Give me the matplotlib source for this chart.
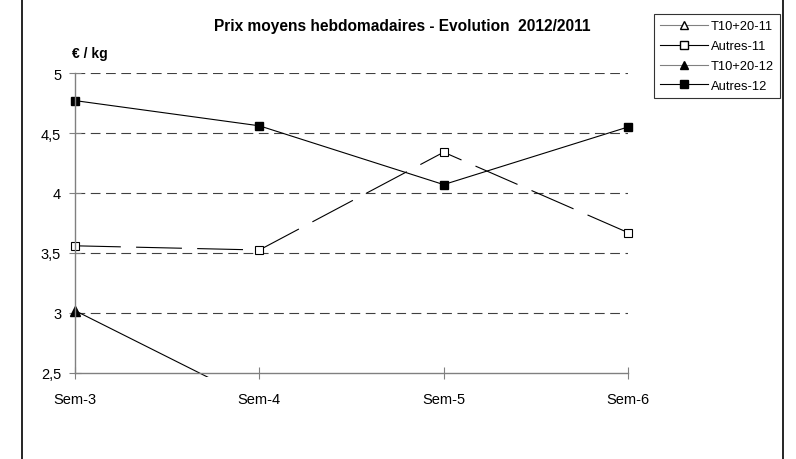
"""Prix moyens hebdomadaires - evolution 2012/2011 (Excel-style line chart)."""

import numpy as np
import matplotlib

matplotlib.use("Agg")
from matplotlib import pyplot as plt  # noqa: E402
from matplotlib.lines import Line2D  # noqa: E402
from matplotlib.transforms import Bbox, TransformedBbox  # noqa: E402

weeks = ["Sem-3", "Sem-4", "Sem-5", "Sem-6"]
# series below 2.5 are off the visible scale in the original
t10_20_11 = [np.nan, np.nan, np.nan, np.nan]
autres_11 = [3.56, 3.525, 4.34, 3.67]
t10_20_12 = [3.02, 2.25, np.nan, np.nan]
autres_12 = [4.77, 4.56, 4.07, 4.55]
y_ticks = [2.5, 3, 3.5, 4, 4.5, 5]
y_labels = ["2,5", "3", "3,5", "4", "4,5", "5"]

plt.rcParams["font.family"] = ["Liberation Sans", "DejaVu Sans"]
plt.rcParams["lines.scale_dashes"] = False

fig = plt.figure(figsize=(7.96, 4.6), dpi=100)
ax = fig.add_axes([75 / 796, 1 - 374 / 460, (628 - 75) / 796, 300 / 460])

x = np.arange(len(weeks))
lw = 0.8
lines = [
    ax.plot(x, t10_20_11, color="black", lw=lw, marker="^", ms=6.5,
            mfc="white", mec="black", mew=0.8)[0],
    ax.plot(x, autres_11, color="black", lw=lw, ls=(0, (33, 11)), marker="s", ms=6,
            mfc="white", mec="black", mew=0.8)[0],
    ax.plot(x, t10_20_12, color="black", lw=lw, marker="^", ms=6.5,
            mfc="black", mec="black")[0],
    ax.plot(x, autres_12, color="black", lw=lw, marker="s", ms=6,
            mfc="black", mec="black")[0],
]
# let markers on the plot edge show, like the Excel plot area does
clip = TransformedBbox(Bbox([[-0.015, -0.012], [1.015, 1.02]]), ax.transAxes)
for ln in lines:
    ln.set_clip_box(clip)

ax.set_xlim(0, len(weeks) - 1)
ax.set_ylim(2.5, 5)
ax.set_xticks(x)
ax.set_xticklabels(weeks, fontsize=10.5)
ax.set_yticks(y_ticks)
ax.set_yticklabels(y_labels, fontsize=10.5)
ax.tick_params(direction="inout", length=8, width=0.8, color="#808080")
ax.tick_params(axis="x", pad=10)
ax.tick_params(axis="y", pad=6)

for v in y_ticks[1:]:
    ax.axhline(v, color="#404040", lw=0.8, ls=(0, (7, 4)), zorder=0)

for side in ("top", "right"):
    ax.spines[side].set_visible(False)
for side in ("left", "bottom"):
    ax.spines[side].set_color("#808080")
    ax.spines[side].set_linewidth(1.0)

fig.text(402 / 796, 1 - 27 / 460, "Prix moyens hebdomadaires - Evolution  2012/2011",
         ha="center", va="center", fontsize=11.2, fontweight="bold")
fig.text(72 / 796, 1 - 54 / 460, "€ / kg", ha="left", va="center",
         fontsize=10, fontweight="bold")

handles = [
    Line2D([], [], color="#808080", lw=lw, marker="^", ms=6, mfc="white", mec="black"),
    Line2D([], [], color="black", lw=lw, marker="s", ms=5.5, mfc="white", mec="black"),
    Line2D([], [], color="#808080", lw=lw, marker="^", ms=6, mfc="black", mec="black"),
    Line2D([], [], color="black", lw=lw, marker="s", ms=5.5, mfc="black", mec="black"),
]
leg = fig.legend(handles, ["T10+20-11", "Autres-11", "T10+20-12", "Autres-12"],
                 loc="upper left", bbox_to_anchor=(654 / 796, 1 - 15 / 460),
                 fontsize=9.3, frameon=True, fancybox=False, handlelength=3.7,
                 handletextpad=0.2, labelspacing=0.6, borderpad=0.5,
                 borderaxespad=0)
leg.get_frame().set_edgecolor("black")
leg.get_frame().set_linewidth(0.8)

# outer chart frame (only the vertical sides show in the crop)
for xf in (22 / 796, 783 / 796):
    fig.add_artist(Line2D([xf, xf], [0, 1], color="black", lw=1.2,
                          transform=fig.transFigure))

fig.savefig("out.png", dpi=100, facecolor="white")
